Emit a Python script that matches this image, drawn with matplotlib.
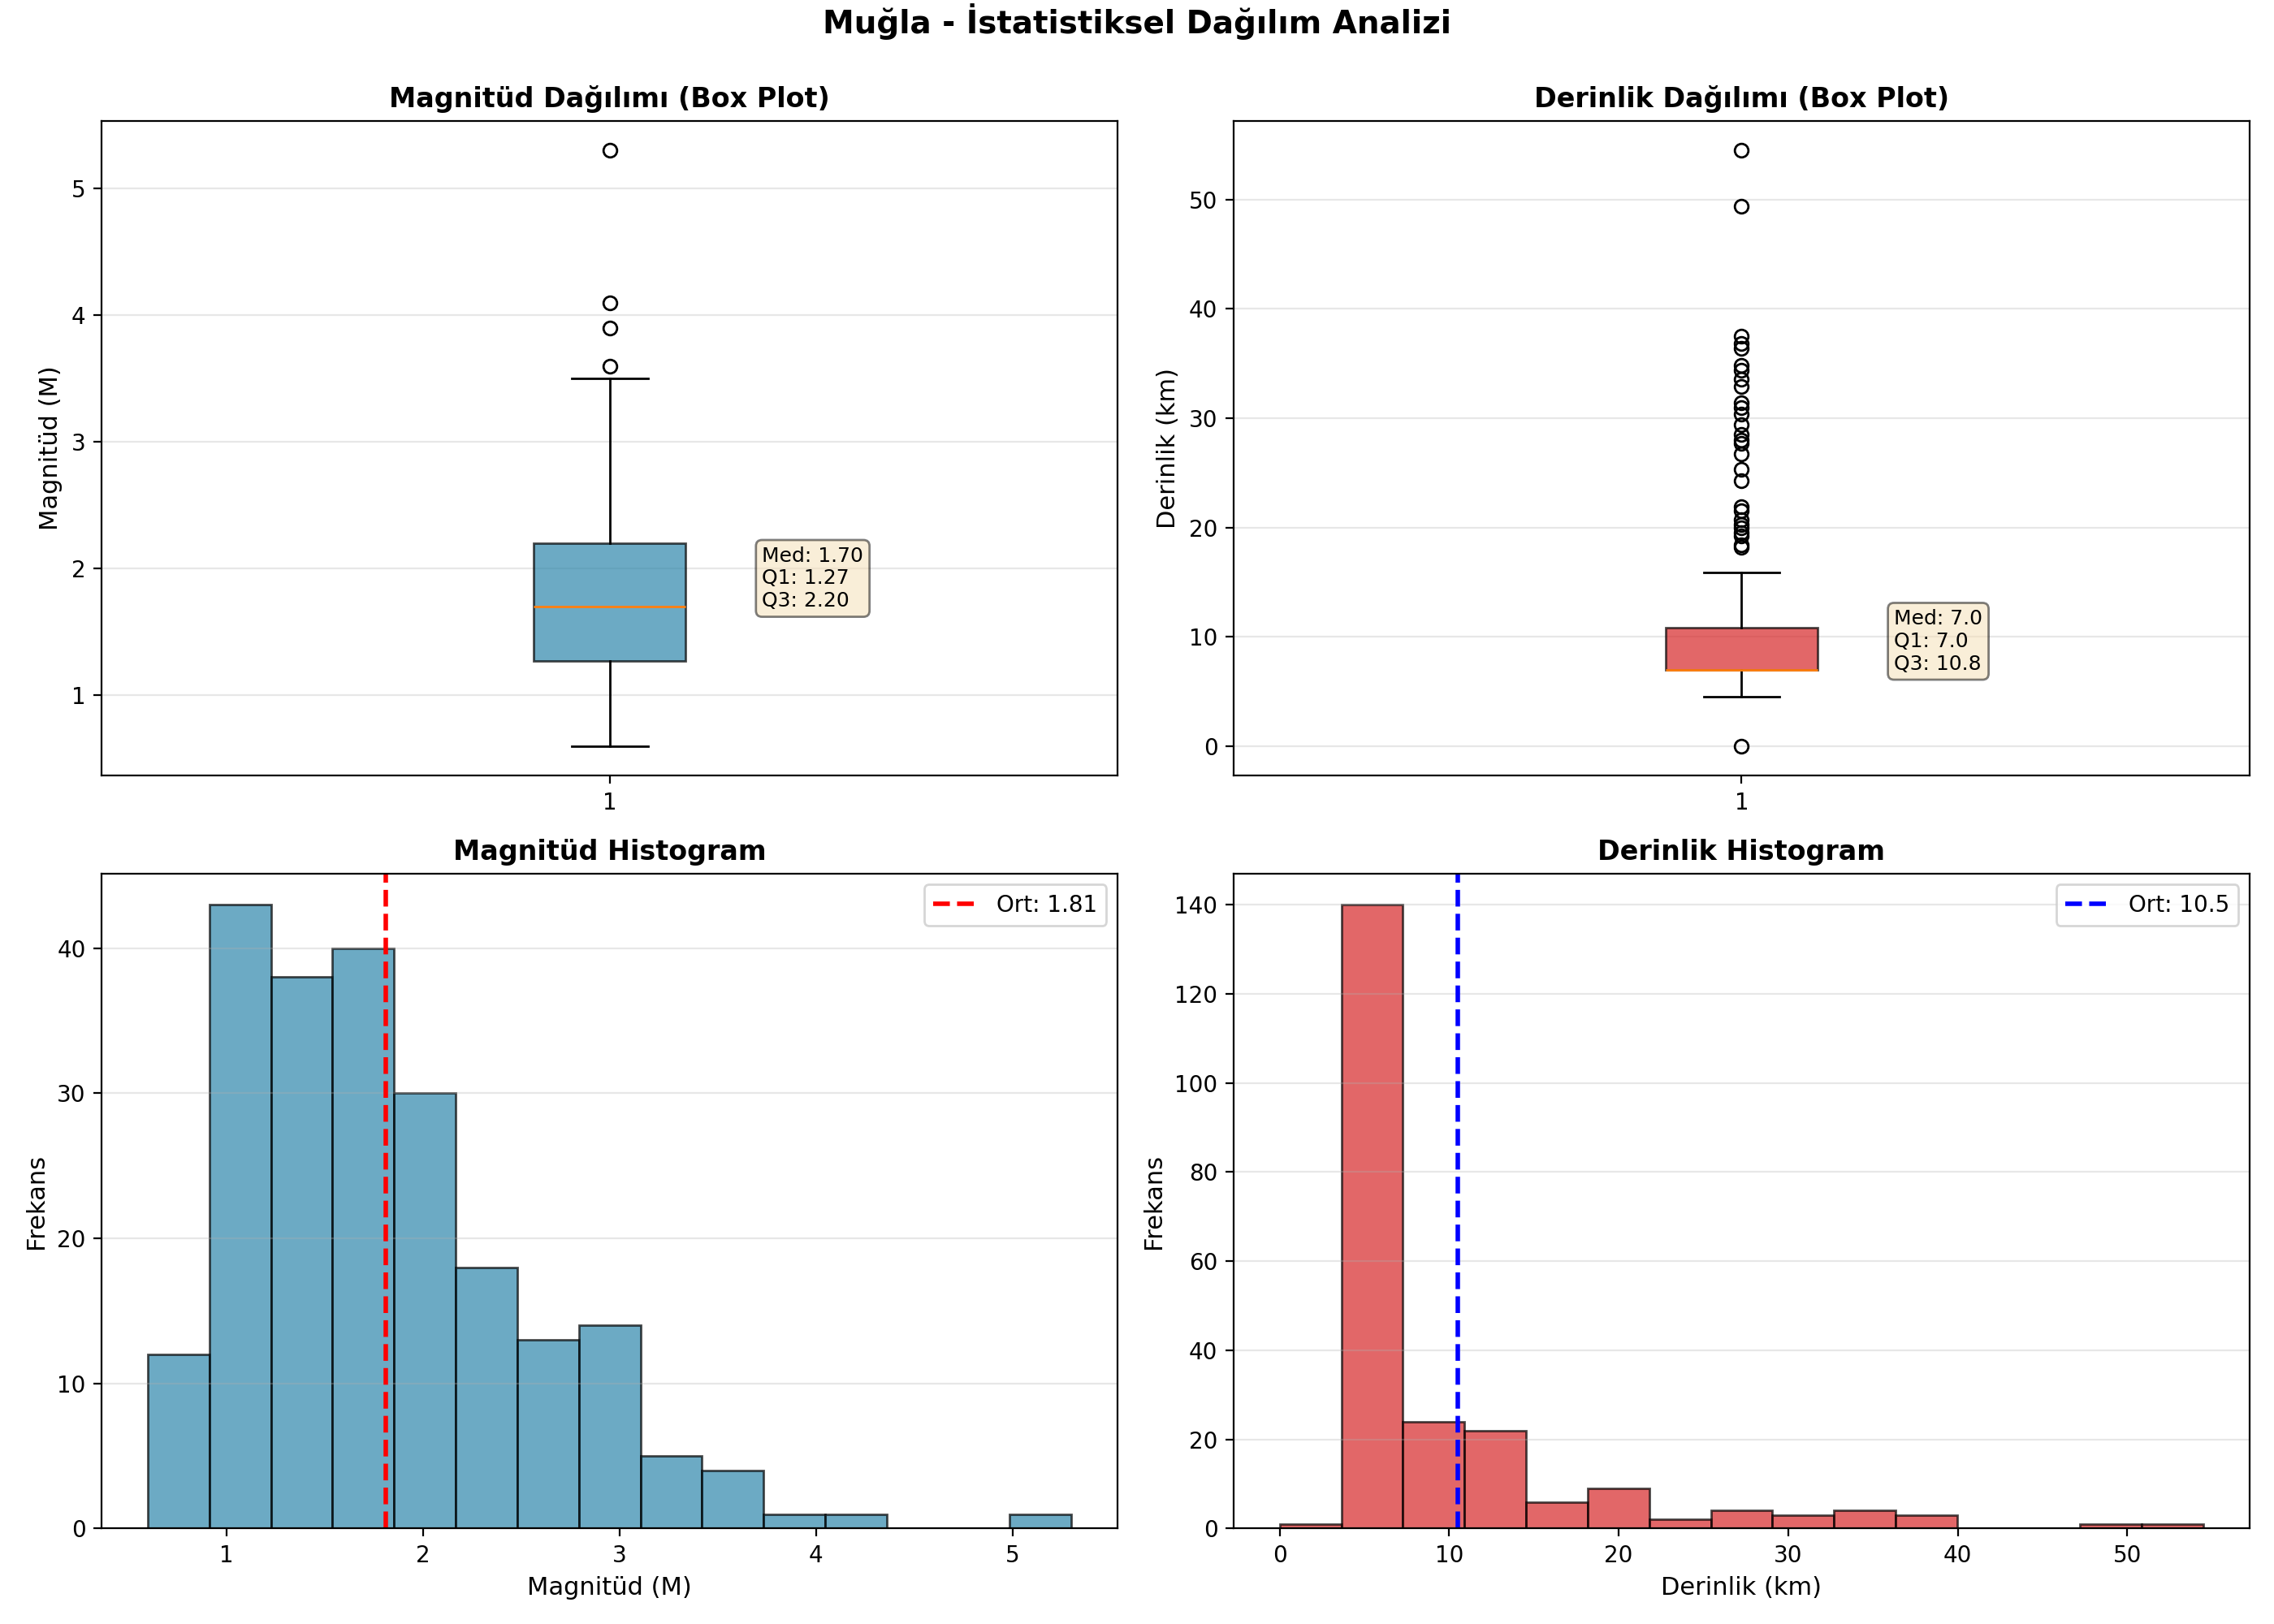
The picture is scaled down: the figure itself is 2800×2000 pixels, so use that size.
import matplotlib.pyplot as plt
import numpy as np

# values
mag_stats = dict(med=1.70, q1=1.27, q3=2.20, whislo=0.6, whishi=3.5,
                 fliers=[3.6, 3.9, 4.1, 5.3])
depth_stats = dict(med=7.0, q1=7.0, q3=10.8, whislo=4.5, whishi=15.9,
                   fliers=[0.0, 18.2, 18.4, 19.2, 19.5, 20.0, 20.3, 20.7, 21.5,
                           21.9, 24.3, 25.3, 26.7, 27.7, 28.0, 28.5, 29.4, 30.4,
                           31.0, 31.4, 32.9, 33.6, 34.4, 34.8, 36.4, 36.8, 37.5,
                           49.4, 54.5])

mag_min, mag_max = 0.6, 5.3
mag_counts = [12, 43, 38, 40, 30, 18, 13, 14, 5, 4, 1, 1, 0, 0, 1]
mag_mean = 1.81

depth_min, depth_max = 0.0, 54.5
depth_counts = [1, 140, 24, 22, 6, 9, 2, 4, 3, 4, 3, 0, 0, 1, 1]
depth_mean = 10.5

blue = '#2E86AB'
red = '#d62728'

fig, axes = plt.subplots(2, 2, figsize=(14, 10), dpi=200)
title = fig.suptitle('Muğla - İstatistiksel Dağılım Analizi', fontsize=14,
                     fontweight='bold')


def draw_box(ax, stats, color, title, ylabel, fmt):
    bp = ax.bxp([stats], patch_artist=True, widths=0.15)
    for box in bp['boxes']:
        box.set_facecolor(color)
        box.set_alpha(0.7)
    ax.set_title(title, fontsize=12, fontweight='bold')
    ax.set_ylabel(ylabel, fontsize=11)
    ax.grid(True, axis='y', alpha=0.3)
    txt = f"Med: {stats['med']:{fmt}}\nQ1: {stats['q1']:{fmt}}\nQ3: {stats['q3']:{fmt}}"
    ax.text(1.15, stats['med'], txt, fontsize=9,
            bbox=dict(boxstyle='round', facecolor='wheat', alpha=0.5))


def draw_hist(ax, lo, hi, counts, mean, color, line_color, title, xlabel, fmt):
    edges = np.linspace(lo, hi, len(counts) + 1)
    centers = (edges[:-1] + edges[1:]) / 2
    ax.hist(centers, bins=edges, weights=counts, color=color,
            edgecolor='black', alpha=0.7)
    ax.axvline(mean, color=line_color, linestyle='--', linewidth=2,
               label=f'Ort: {mean:{fmt}}')
    ax.set_title(title, fontsize=12, fontweight='bold')
    ax.set_xlabel(xlabel, fontsize=11)
    ax.set_ylabel('Frekans', fontsize=11)
    ax.legend()
    ax.grid(True, axis='y', alpha=0.3)


draw_box(axes[0, 0], mag_stats, blue, 'Magnitüd Dağılımı (Box Plot)', 'Magnitüd (M)', '.2f')
draw_box(axes[0, 1], depth_stats, red, 'Derinlik Dağılımı (Box Plot)', 'Derinlik (km)', '.1f')
draw_hist(axes[1, 0], mag_min, mag_max, mag_counts, mag_mean, blue, 'red',
          'Magnitüd Histogram', 'Magnitüd (M)', '.2f')
draw_hist(axes[1, 1], depth_min, depth_max, depth_counts, depth_mean, red, 'blue',
          'Derinlik Histogram', 'Derinlik (km)', '.1f')

plt.tight_layout()
# push the title up to the top edge once the layout is fixed
title.set_y(0.998)
plt.savefig('out.png', dpi=200)
